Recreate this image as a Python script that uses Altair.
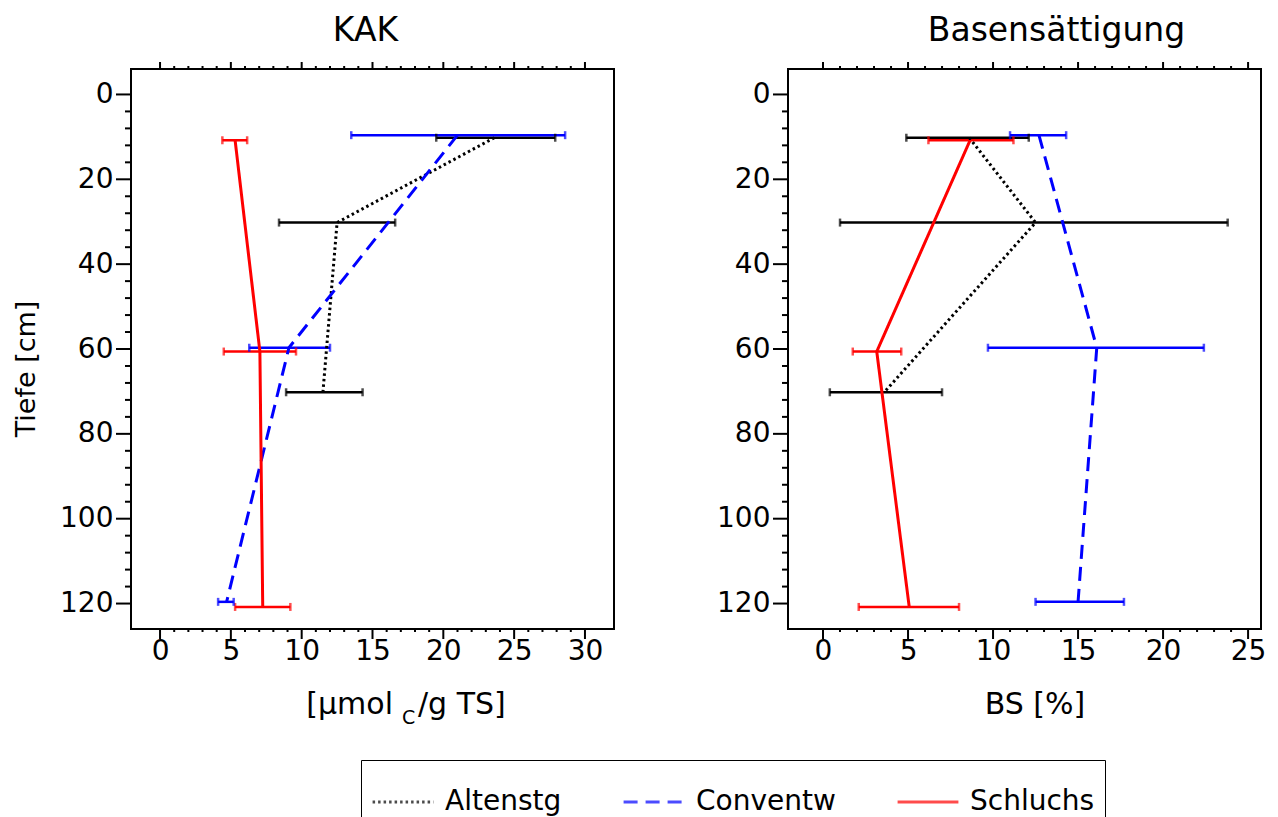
import altair as alt
import pandas as pd

FONT = "DejaVu Sans"

series = ["Altenstg", "Conventw", "Schluchs"]
colors = ["black", "blue", "red"]

# depth (cm) of each series' measurements
depth_alt = [10.2, 30.2, 70.2]
depth_conv = [9.6, 59.7, 119.6]
depth_sch = [10.8, 60.6, 120.8]

# KAK [umol C / g TS]
kak_alt = [23.6, 12.5, 11.5]
kak_alt_lo = [19.5, 8.4, 8.9]
kak_alt_hi = [27.9, 16.6, 14.3]
kak_conv = [21.0, 9.1, 4.7]
kak_conv_lo = [13.5, 6.3, 4.1]
kak_conv_hi = [28.6, 12.0, 5.2]
kak_sch = [5.3, 7.05, 7.25]
kak_sch_lo = [4.4, 4.5, 5.3]
kak_sch_hi = [6.15, 9.6, 9.2]

# Basensaettigung BS [%]
bs_alt = [8.6, 12.5, 3.6]
bs_alt_lo = [4.9, 1.0, 0.4]
bs_alt_hi = [12.1, 23.8, 7.0]
bs_conv = [12.7, 16.1, 15.0]
bs_conv_lo = [11.0, 9.7, 12.5]
bs_conv_hi = [14.3, 22.4, 17.7]
bs_sch = [8.65, 3.16, 5.07]
bs_sch_lo = [6.2, 1.75, 2.1]
bs_sch_hi = [11.2, 4.6, 8.0]

# axis ticks
kak_major = [0, 5, 10, 15, 20, 25, 30]
kak_minor = [v for v in range(0, 31) if v % 5 != 0]
bs_major = [0, 5, 10, 15, 20, 25]
bs_minor = [v for v in range(0, 26) if v % 5 != 0]
depth_major = [0, 20, 40, 60, 80, 100, 120]
depth_minor = [v for v in range(0, 121, 4) if v % 20 != 0]


def frame(vals, los, his):
    rows = []
    for s, d, v, lo, hi in zip(series,
                               [depth_alt, depth_conv, depth_sch],
                               vals, los, his):
        for i in range(len(d)):
            rows.append({"series": s, "depth": d[i], "val": v[i], "lo": lo[i], "hi": hi[i]})
    return pd.DataFrame(rows)


kak_df = frame([kak_alt, kak_conv, kak_sch],
               [kak_alt_lo, kak_conv_lo, kak_sch_lo],
               [kak_alt_hi, kak_conv_hi, kak_sch_hi])
bs_df = frame([bs_alt, bs_conv, bs_sch],
              [bs_alt_lo, bs_conv_lo, bs_sch_lo],
              [bs_alt_hi, bs_conv_hi, bs_sch_hi])

color_scale = alt.Scale(domain=series, range=colors)
dash_scale = alt.Scale(domain=series, range=[[2.5, 3], [14, 8], [1, 0]])
width_scale = alt.Scale(domain=series, range=[3, 3, 4])


def panel(df, major_x, minor_x, xdom, W, H, title, title_dx, xtitle_parts, ytitle):
    xs = alt.Scale(domain=xdom, nice=False, zero=False)
    ys = alt.Scale(domain=[-6, 126], reverse=True, nice=False, zero=False)
    xaxis = alt.Axis(values=major_x, ticks=False, domain=False, grid=False,
                     labelFlush=False, labelPadding=8, labelFontSize=28,
                     labelOverlap=False, title=None)
    yaxis = alt.Axis(values=depth_major, ticks=False, domain=False, grid=False,
                     labelFlush=False, labelPadding=18, labelFontSize=28,
                     labelOverlap=False, title=None)

    def X(f):
        return alt.X(f, scale=xs, axis=xaxis, title=None)

    def Y(f):
        return alt.Y(f, scale=ys, axis=yaxis, title=None)

    base = alt.Chart(df)
    col = alt.Color("series:N", scale=color_scale, legend=alt.Legend(title=None))
    rule = base.mark_rule(strokeWidth=2.5).encode(x=X("lo:Q"), x2="hi:Q", y=Y("depth:Q"), color=col)
    cap_lo = base.mark_tick(orient="vertical", size=8, thickness=2.5).encode(
        x=X("lo:Q"), y=Y("depth:Q"), color=col)
    cap_hi = base.mark_tick(orient="vertical", size=8, thickness=2.5).encode(
        x=X("hi:Q"), y=Y("depth:Q"), color=col)
    line = base.mark_line().encode(
        x=X("val:Q"), y=Y("depth:Q"), color=col,
        strokeDash=alt.StrokeDash("series:N", scale=dash_scale, legend=alt.Legend(title=None)),
        strokeWidth=alt.StrokeWidth("series:N", scale=width_scale, legend=None),
        order="depth:Q")

    xmaj = alt.Chart(pd.DataFrame({"v": major_x}))
    xmin = alt.Chart(pd.DataFrame({"v": minor_x}))
    ymaj = alt.Chart(pd.DataFrame({"v": depth_major}))
    ymin = alt.Chart(pd.DataFrame({"v": depth_minor}))
    tk = dict(strokeWidth=2, color="black")
    ticks = [
        xmaj.mark_rule(**tk).encode(x=X("v:Q"), y=alt.value(H), y2=alt.value(H + 10)),
        xmin.mark_rule(**tk).encode(x=X("v:Q"), y=alt.value(H), y2=alt.value(H + 3)),
        xmaj.mark_rule(**tk).encode(x=X("v:Q"), y=alt.value(-7), y2=alt.value(0)),
        xmin.mark_rule(**tk).encode(x=X("v:Q"), y=alt.value(-3), y2=alt.value(0)),
        ymaj.mark_rule(**tk).encode(y=Y("v:Q"), x=alt.value(-15), x2=alt.value(0)),
        ymin.mark_rule(**tk).encode(y=Y("v:Q"), x=alt.value(-6), x2=alt.value(0)),
    ]

    one = pd.DataFrame({"a": [0]})
    texts = []
    for txt, px, py, fs, align in xtitle_parts:
        texts.append(alt.Chart(one).mark_text(
            text=txt, font=FONT, fontSize=fs, align=align, baseline="alphabetic",
            color="black").encode(x=alt.value(px), y=alt.value(py)))
    if ytitle:
        texts.append(alt.Chart(one).mark_text(
            text=ytitle, font=FONT, fontSize=27, angle=270, align="center",
            baseline="middle", color="black").encode(x=alt.value(-104), y=alt.value(300)))

    return alt.layer(rule, cap_lo, cap_hi, line, *ticks, *texts).properties(
        width=W, height=H,
        title=alt.TitleParams(title, fontSize=33, font=FONT, fontWeight="normal",
                              anchor="middle", dx=title_dx, offset=13, color="black"))


H = 560
left = panel(kak_df, kak_major, kak_minor, [-2.05, 32.05], 483, H, "KAK", -7,
             [("[µmol", 262, 645, 30, "right"),
              ("C", 271, 655, 19, "left"),
              ("/g TS]", 287, 645, 30, "left")],
             "Tiefe [cm]")
right = panel(bs_df, bs_major, bs_minor, [-2.06, 25.76], 473, H, "Basensättigung", 32,
              [("BS [%]", 247, 645, 30, "center")],
              None)

chart = alt.hconcat(left, right, spacing=100).properties(
    padding={"left": 12, "top": 14, "right": 5, "bottom": 5}
).configure_view(stroke="black", strokeWidth=2).configure_axis(
    labelFont=FONT, labelColor="black"
).configure_legend(
    orient="none", legendX=230, legendY=691, direction="horizontal",
    strokeColor="black", padding=10, labelFontSize=28, labelFont=FONT,
    labelColor="black", symbolType="stroke", symbolSize=3700,
    symbolStrokeWidth=3, columnPadding=55, labelOffset=10
)

chart.save("out.html", embed_options={"renderer": "svg", "actions": False})
